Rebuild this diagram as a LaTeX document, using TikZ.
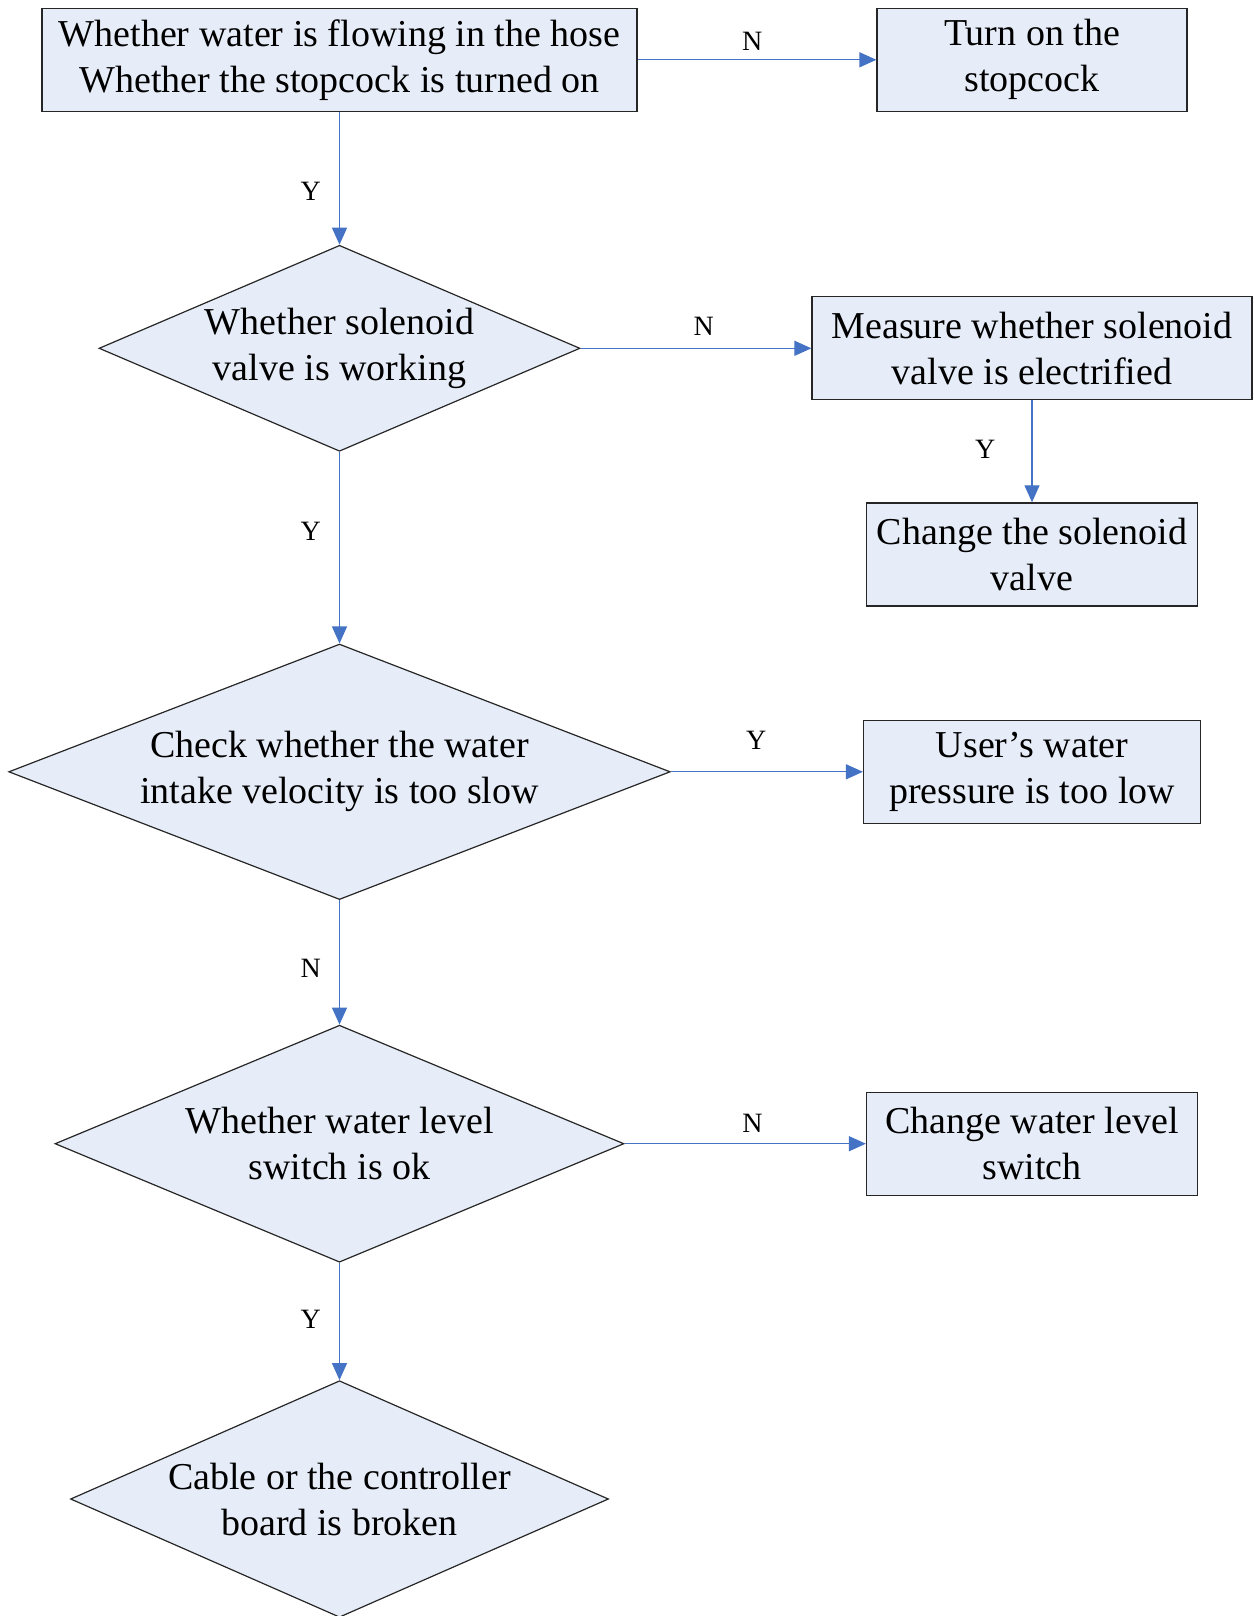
\documentclass[tikz,border=0pt]{standalone}
\usepackage{fontspec}
\setmainfont{Liberation Serif}
\usetikzlibrary{shapes.geometric,arrows.meta,positioning}
\definecolor{boxfill}{RGB}{231,237,248}
\definecolor{flowblue}{RGB}{68,114,196}
\tikzset{
 stepbox/.style={rectangle, draw=black!85, line width=1.2pt, fill=boxfill, align=center, inner sep=0pt, font=\fontsize{38}{46}\selectfont},
 check/.style={diamond, draw=black!85, line width=1.2pt, fill=boxfill, align=center, inner sep=0pt, font=\fontsize{38}{46}\selectfont},
 flow/.style={draw=flowblue, line width=1.3pt, -{Triangle[length=17pt,width=15pt,fill=flowblue]}},
 yn/.style={font=\fontsize{28}{30}\selectfont, inner sep=0pt}
}
\begin{document}
\begin{tikzpicture}[x=1pt,y=-1pt]
 \useasboundingbox (0,0) rectangle (1253,1616);
 % coordinates
 \coordinate (c0) at (339.5,59.8);
 \coordinate (c1) at (1032,59.8);
 \coordinate (c2) at (339.5,348.3);
 \coordinate (c3) at (1032,348.3);
 \coordinate (c4) at (1032,554.4);
 \coordinate (c5) at (339.5,771.8);
 \coordinate (c6) at (1032,771.8);
 \coordinate (c7) at (339.5,1143.7);
 \coordinate (c8) at (1032,1143.7);
 \coordinate (c9) at (339.5,1499);

 % boxes
 \node (hose) at (c0) [stepbox, minimum width=595pt, minimum height=103pt] {Whether water is flowing in the hose\\Whether the stopcock is turned on};
 \node (turnon) at (c1) [stepbox, minimum width=310pt, minimum height=103pt] {Turn on the\\stopcock};
 \node (measure) at (c3) [stepbox, minimum width=440pt, minimum height=103pt] {Measure whether solenoid\\valve is electrified};
 \node (change) at (c4) [stepbox, minimum width=331pt, minimum height=103pt] {Change the solenoid\\valve};
 \node (pressure) at (c6) [stepbox, minimum width=337pt, minimum height=103pt] {User’s water\\pressure is too low};
 \node (levelsw) at (c8) [stepbox, minimum width=331pt, minimum height=103pt] {Change water level\\switch};

 % decisions
 \node (valve) at (c2) [check, shape aspect=2.335, minimum width=481pt, minimum height=206pt] {Whether solenoid\\valve is working};
 \node (intake) at (c5) [check, shape aspect=2.589, minimum width=661.5pt, minimum height=255.5pt] {Check whether the water\\intake velocity is too slow};
 \node (level) at (c7) [check, shape aspect=2.401, minimum width=569pt, minimum height=237pt] {Whether water level\\switch is ok};
 \node (cable) at (c9) [check, shape aspect=2.274, minimum width=538pt, minimum height=236.6pt] {Cable or the controller\\board is broken};

 % connectors
 \draw[flow] (hose) -- node (y0) [yn, pos=.6, left=18pt] {Y} (valve);
 \draw[flow] (valve) -- node (y1) [yn, pos=.417, left=18pt] {Y} (intake);
 \draw[flow] (intake) -- node (n2) [yn, pos=.55, left=18pt] {N} (level);
 \draw[flow] (level) -- node (y3) [yn, pos=.48, left=18pt] {Y} (cable);
 \draw[flow] (measure) -- node (y4) [yn, pos=.477, left=36pt] {Y} (change);
 \draw[flow] (hose) -- node (n0) [yn, pos=.48, above=9pt] {N} (turnon);
 \draw[flow] (valve) -- node (n1) [yn, pos=.533, above=12pt] {N} (measure);
 \draw[flow] (intake) -- node (y2) [yn, pos=.445, above=22pt] {Y} (pressure);
 \draw[flow] (level) -- node (n3) [yn, pos=.53, above=11pt] {N} (levelsw);
\end{tikzpicture}
\end{document}
